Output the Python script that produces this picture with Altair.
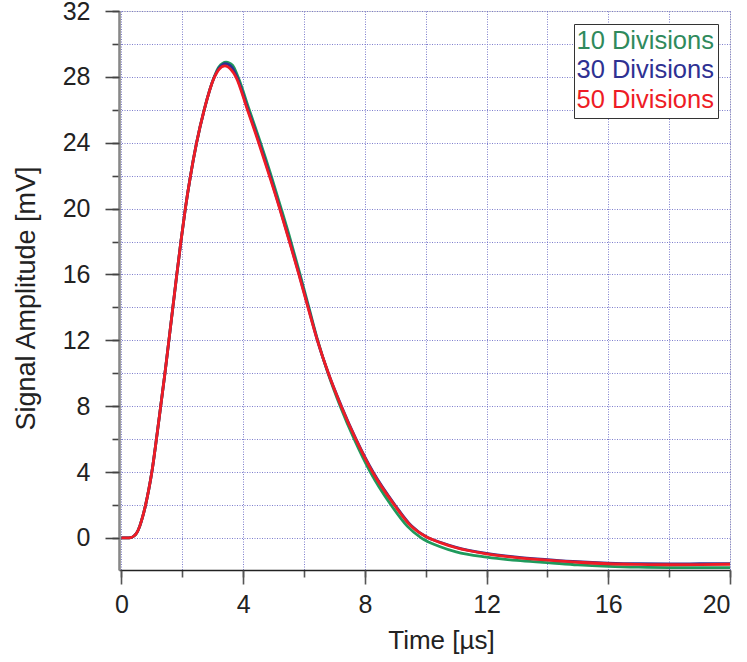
import altair as alt
import pandas as pd

series_names = ["10 Divisions", "30 Divisions", "50 Divisions"]
series_colors = ["#1f9a5c", "#2e3192", "#ee1c25"]
label_colors = ["#2f8a5c", "#2e3192", "#ee1c25"]

# shared rising edge
rise_t = [0.0, 0.2, 0.3, 0.4, 0.5, 0.6, 0.7, 0.8, 0.9, 1.0, 1.15, 1.29, 1.43, 1.56, 1.69, 1.82, 1.955, 2.1, 2.27, 2.47, 2.72]
rise_v = [0.0, 0.0, 0.02, 0.1, 0.3, 0.7, 1.3, 2.05, 2.95, 4.0, 6.0, 8.0, 10.0, 12.0, 14.0, 16.0, 18.0, 20.0, 22.0, 24.0, 26.0]

t10 = rise_t + [3.06, 3.2, 3.44, 3.65, 3.83, 4.2, 4.57, 4.92, 5.25, 5.57, 5.87, 6.16, 6.45, 6.79, 7.19, 7.65, 8.18, 8.86, 9.4, 9.85, 10.5, 11.0, 12.0, 13.0, 14.0, 15.0, 16.0, 17.0, 18.0, 19.0, 20.0]
v10 = rise_v + [28.05, 28.6, 28.9, 28.7, 28.0, 26.0, 24.0, 22.0, 20.0, 18.0, 16.0, 14.0, 12.0, 10.0, 8.0, 6.0, 4.0, 2.0, 0.7, 0.0, -0.55, -0.85, -1.17, -1.37, -1.5, -1.64, -1.73, -1.78, -1.8, -1.8, -1.8]

t30 = rise_t + [3.06, 3.2, 3.42, 3.62, 3.79, 4.16, 4.53, 4.88, 5.21, 5.53, 5.84, 6.14, 6.44, 6.8, 7.23, 7.71, 8.27, 8.99, 9.52, 10.03, 10.5, 11.0, 12.0, 13.0, 14.0, 15.0, 16.0, 17.0, 18.0, 19.0, 20.0]
v30 = rise_v + [28.02, 28.5, 28.8, 28.6, 28.0, 26.0, 24.0, 22.0, 20.0, 18.0, 16.0, 14.0, 12.0, 10.0, 8.0, 6.0, 4.0, 2.0, 0.75, 0.05, -0.28, -0.57, -0.94, -1.17, -1.32, -1.45, -1.53, -1.57, -1.58, -1.57, -1.56]

t50 = rise_t + [3.06, 3.2, 3.4, 3.6, 3.76, 4.14, 4.51, 4.86, 5.2, 5.52, 5.83, 6.13, 6.44, 6.8, 7.22, 7.7, 8.25, 8.97, 9.5, 10.0, 10.5, 11.0, 12.0, 13.0, 14.0, 15.0, 16.0, 17.0, 18.0, 19.0, 20.0]
v50 = rise_v + [28.0, 28.44, 28.67, 28.44, 28.0, 26.0, 24.0, 22.0, 20.0, 18.0, 16.0, 14.0, 12.0, 10.0, 8.0, 6.0, 4.0, 2.0, 0.75, 0.08, -0.3, -0.6, -0.97, -1.2, -1.35, -1.48, -1.57, -1.61, -1.63, -1.62, -1.6]

x_minor = list(range(0, 21, 2))
x_major = list(range(0, 21, 4))
y_minor = list(range(0, 33, 2))
y_major = list(range(0, 33, 4))

rows = []
for name, ts, vs in zip(series_names, [t10, t30, t50], [v10, v30, v50]):
    for i, (t, v) in enumerate(zip(ts, vs)):
        rows.append({"t": t, "v": v, "series": name, "idx": i})
df = pd.DataFrame(rows)

FONT = "Liberation Sans"
xscale = alt.Scale(domain=[-0.08, 20], nice=False, zero=False)
yscale = alt.Scale(domain=[-1.95, 32], nice=False, zero=False)
grid_color = "#7070c8"

label_expr = (
    f"datum.label === '{series_names[0]}' ? '{label_colors[0]}' : "
    f"datum.label === '{series_names[1]}' ? '{label_colors[1]}' : '{label_colors[2]}'"
)

lines = alt.Chart(df).mark_line(strokeWidth=2.8, interpolate="monotone").encode(
    x=alt.X("t:Q", scale=xscale, axis=alt.Axis(
        orient="bottom", values=x_minor, tickSize=7, labels=False, title=None,
        grid=True, gridColor=grid_color, gridDash=[1, 1.5], gridWidth=1, gridOpacity=0.9,
        domain=True, domainColor="#222222", domainWidth=1.6,
        tickColor="#555555", tickWidth=1.6)),
    y=alt.Y("v:Q", scale=yscale, axis=alt.Axis(
        orient="left", values=y_minor, tickSize=7, labels=False, title=None,
        grid=True, gridColor=grid_color, gridDash=[1, 1.5], gridWidth=1, gridOpacity=0.9,
        domain=True, domainColor="#888888", domainWidth=2.6,
        tickColor="#444444", tickWidth=1.6)),
    color=alt.Color("series:N", scale=alt.Scale(domain=series_names, range=series_colors),
                    legend=alt.Legend(
                        title=None, orient="none", legendX=455, legendY=13,
                        fillColor="white", strokeColor="#333333", padding=4,
                        symbolType="circle", symbolSize=0, symbolStrokeWidth=0, symbolOpacity=0,
                        labelOffset=alt.ExprRef(expr="-27"), labelFont=FONT, labelFontSize=25.5,
                        labelColor=alt.ExprRef(expr=label_expr), rowPadding=2.5)),
    order=alt.Order("idx:Q"),
    detail="series:N",
)

major = alt.Chart(df).mark_point(opacity=0).encode(
    x=alt.X("t:Q", scale=xscale, axis=alt.Axis(
        orient="bottom", values=x_major, tickSize=14, grid=False, domain=False,
        tickColor="#555555", tickWidth=1.6, labelFont=FONT, labelFontSize=25,
        labelColor="#222222", labelPadding=8, format="d",
        title="Time [µs]", titleFont=FONT, titleFontSize=26, titleFontWeight="normal",
        titleColor="#222222", titleX=322, titleY=78, titleBaseline="alphabetic")),
    y=alt.Y("v:Q", scale=yscale, axis=alt.Axis(
        orient="left", values=y_major, tickSize=14, grid=False, domain=False,
        tickColor="#444444", tickWidth=1.6, labelFont=FONT, labelFontSize=25,
        labelColor="#222222", labelPadding=15, format="d",
        title="Signal Amplitude [mV]", titleFont=FONT, titleFontSize=27, titleFontWeight="normal",
        titleColor="#222222", titleX=-85, titleY=287, titleBaseline="alphabetic", titleAngle=270)),
)

chart = alt.layer(lines, major).resolve_axis(x="independent", y="independent").properties(
    width=611, height=559,
    padding={"left": 119, "top": 11, "right": 17, "bottom": 92},
    autosize=alt.AutoSizeParams(type="none"),
).configure_view(stroke=None).configure(background="white")

chart.save("out.html", embed_options={"renderer": "svg", "actions": False})
